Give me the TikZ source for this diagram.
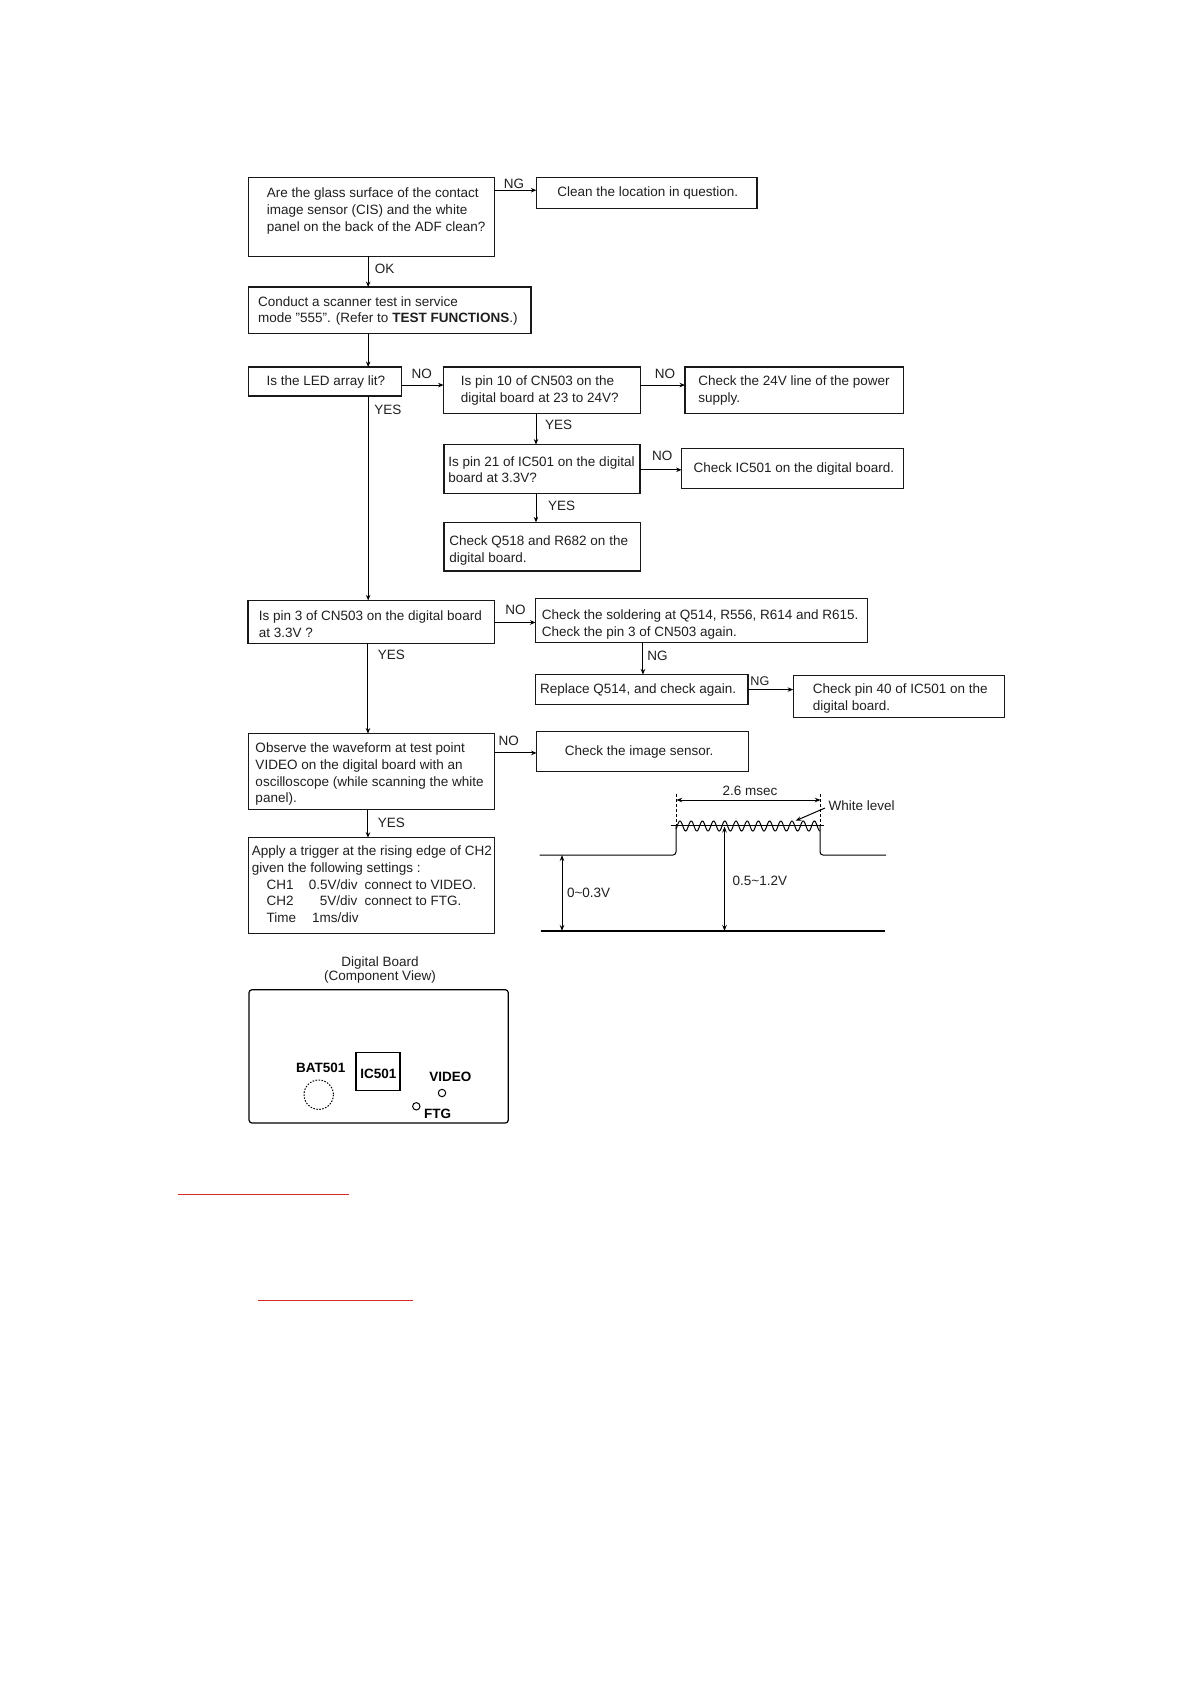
\documentclass[tikz,border=0pt]{standalone}
\usepackage{fontspec}
\setmainfont{Liberation Sans}
\usetikzlibrary{arrows.meta}
\definecolor{redline}{RGB}{215,40,40}
\tikzset{
  x=1pt,y=-1pt,
  boxn/.style={draw=black!90,line width=1.2pt,inner sep=0pt,outer sep=0pt,anchor=north west},
  txt/.style={inner sep=0pt,outer sep=0pt,anchor=west,align=left,text=black!88,font=\fontsize{13.5}{16.6}\selectfont},
  lab/.style={txt},
  clab/.style={txt,anchor=center},
  blab/.style={inner sep=0pt,outer sep=0pt,anchor=center,text=black,font=\fontsize{13.5}{16}\selectfont\bfseries},
  arr/.style={draw=black,line width=1pt,-{Stealth[length=5.5pt,width=4.5pt]}},
  dbl/.style={draw=black,line width=1pt,{Stealth[length=6pt,width=4.5pt]}-{Stealth[length=6pt,width=4.5pt]}},
  wave/.style={draw=black,line width=1pt},
}
% name, x1, y1, x2, y2, text x, text y, text
\newcommand{\flowbox}[8]{%
  \node[boxn,minimum width={(#4-#2)*1.0043pt},minimum height={(#5-#3)*1.0043pt}] (#1) at (#2,#3) {};
  \node[txt] (#1t) at (#6,#7) {#8};
}
\begin{document}
\begin{tikzpicture}
\useasboundingbox (0,0) rectangle (1190,1682);

\begin{scope}[x=1.0043pt,y=-1.0043pt,yshift=0.9pt,xshift=-0.3pt]
\flowbox{b1}{247.8}{177.7}{492.7}{256}{266.1}{211}{Are the glass surface of the contact\\image sensor (CIS) and the white\\panel on the back of the ADF clean?}
\flowbox{clean}{534.4}{177.7}{754}{208.3}{555.2}{193.5}{Clean the location in question.}
\flowbox{b2}{247.8}{286.7}{529}{333}{257.4}{310.5}{Conduct a scanner test in service\\mode "555". (Refer to \textbf{TEST FUNCTIONS}.)}
\flowbox{b3}{247.8}{366.3}{399.8}{395.2}{265.8}{381.5}{Is the LED array lit?}
\flowbox{b4}{442}{366.3}{638}{412.5}{459.3}{389.5}{Is pin 10 of CN503 on the\\digital board at 23 to 24V?}
\flowbox{b5}{682.4}{366.3}{899.8}{412.5}{695.6}{389.5}{Check the 24V line of the power\\supply.}
\flowbox{b7}{442.4}{443.5}{637.6}{492}{446.8}{468.7}{Is pin 21 of IC501 on the digital\\board at 3.3V?}
\flowbox{b8}{679}{447.5}{899.8}{487}{691}{467.7}{Check IC501 on the digital board.}
\flowbox{b9}{442.4}{521}{638}{569.5}{447.8}{548.9}{Check Q518 and R682 on the\\digital board.}
\flowbox{b6}{247.3}{598.7}{492.4}{641.5}{258.1}{622.6}{Is pin 3 of CN503 on the digital board\\at 3.3V ?}
\flowbox{b10}{533.5}{596.6}{864}{640.5}{539.8}{622.8}{Check the soldering at Q514, R556, R614 and R615.\\Check the pin 3 of CN503 again.}
\flowbox{b11}{533.5}{672.5}{745}{702.5}{538.2}{688.1}{Replace Q514, and check again.}
\flowbox{b12}{790}{673.6}{1000.8}{715.3}{809.7}{696.5}{Check pin 40 of IC501 on the\\digital board.}
\flowbox{b13}{248}{731.3}{492.9}{807.2}{254.7}{771.9}{Observe the waveform at test point\\VIDEO on the digital board with an\\oscilloscope (while scanning the white\\panel).}
\flowbox{b14}{534.6}{729.2}{745.2}{768.8}{562.8}{750.1}{Check the image sensor.}
\flowbox{b15}{248}{835}{492.9}{930.2}{251.1}{881.4}{Apply a trigger at the rising edge of CH2\\given the following settings :\\\hspace*{14.7pt}\rlap{CH1}\hspace{42.2pt}\rlap{0.5V/div}\hspace{55.8pt}connect to VIDEO.\\\hspace*{14.7pt}\rlap{CH2}\hspace{53.3pt}\rlap{5V/div}\hspace{44.7pt}connect to FTG.\\\hspace*{14.7pt}\rlap{Time}\hspace{45.5pt}1ms/div}

% connectors
\draw[arr] (b1.east |- 0,190.3) -- (clean.west |- 0,190.3);
\draw[arr] (b1.south -| 366.9,0) -- (b2.north -| 366.9,0);
\draw[arr] (b2.south -| 366.9,0) -- (b3.north -| 366.9,0);
\draw[arr] (b3.east |- 0,384.3) -- (b4.west |- 0,384.3);
\draw[arr] (b4.east |- 0,384.3) -- (b5.west |- 0,384.3);
\draw[arr] (b3.south -| 366.9,0) -- (b6.north -| 366.9,0);
\draw[arr] (b4.south -| 534,0) -- (b7.north -| 534,0);
\draw[arr] (b7.east |- 0,468.7) -- (b8.west |- 0,468.7);
\draw[arr] (b7.south -| 534,0) -- (b9.north -| 534,0);
\draw[arr] (b6.east |- 0,620.7) -- (b10.west |- 0,620.7);
\draw[arr] (b10.south -| 640.5,0) -- (b11.north -| 640.5,0);
\draw[arr] (b11.east |- 0,687.5) -- (b12.west |- 0,687.5);
\draw[arr] (b6.south -| 366.7,0) -- (b13.north -| 366.7,0);
\draw[arr] (b13.east |- 0,750.6) -- (b14.west |- 0,750.6);
\draw[arr] (b13.south -| 366.7,0) -- (b15.north -| 366.7,0);

% connector labels
\node[clab] (l1) at (512,184) {NG};
\node[lab] (l2) at (373.5,268.5) {OK};
\node[clab] (l3) at (420.3,373) {NO};
\node[clab] (l4) at (662.4,373) {NO};
\node[lab] (l5) at (373,409) {YES};
\node[lab] (l6) at (543,423.5) {YES};
\node[clab] (l7) at (659.8,455) {NO};
\node[lab] (l8) at (546,505) {YES};
\node[clab] (l9) at (513.5,608.4) {NO};
\node[lab] (l10) at (376.5,652.9) {YES};
\node[lab] (l11) at (645,654.2) {NG};
\node[lab,font=\fontsize{12.6}{15}\selectfont] (l12) at (747.5,679.4) {NG};
\node[clab] (l13) at (506.8,738.6) {NO};
\node[lab] (l14) at (376.5,819.9) {YES};
\end{scope}

% waveform
\coordinate (wl) at (539.5,855);
\coordinate (wr) at (886,855);
\coordinate (bl) at (540.5,931);
\coordinate (br) at (885,931);
\draw[wave,line width=1.5pt] (bl) -- (br);
\draw[wave,rounded corners=3pt] (wl) -- (676,855) -- (676,826);
\draw[wave,rounded corners=3pt] (820,826) -- (820,855) -- (wr);
\draw[wave,line width=1.2pt] (670.7,825.5) -- (824,825.5);
\draw[wave,domain=676:820,samples=260,smooth] plot (\x,{826-5*cos((\x-680)/11.2*360)});
\draw[wave,dash pattern=on 3pt off 2pt] (676.3,794) -- (676.3,826);
\draw[wave,dash pattern=on 3pt off 2pt] (820.7,794) -- (820.7,826);
\draw[dbl] (676.3,800) -- (820.7,800);
\node[clab] (w1) at (750,790.5) {2.6 msec};
\node[lab] (w2) at (828.5,805.7) {White level};
\draw[arr] (825,808) -- (795.7,820.7);
\draw[dbl] (724.5,826.5) -- (724.5,931);
\node[lab] (w3) at (732.7,881) {0.5\textasciitilde1.2V};
\draw[dbl] (562,855) -- (562,931);
\node[lab] (w4) at (567,892.7) {0\textasciitilde0.3V};

% board
\node[clab] (t1) at (380,962.7) {Digital Board};
\node[clab] (t2) at (380,977) {(Component View)};
\node[draw=black,line width=1.2pt,rounded corners=3pt,inner sep=0pt,outer sep=0pt,anchor=north west,minimum width=259.3pt,minimum height=133.3pt] (board) at (249,989.7) {};
\node[draw=black,line width=1.2pt,inner sep=0pt,outer sep=0pt,anchor=north west,minimum width=44pt,minimum height=37.6pt] (ic) at (356,1052.7) {};
\node[blab] (ict) at (378.3,1073.7) {IC501};
\node[blab] (bat) at (320.7,1068) {BAT501};
\node[blab] (vid) at (450.3,1077.3) {VIDEO};
\node[blab] (ftg) at (437.7,1114) {FTG};
\draw[black,line width=1pt,dash pattern=on 1.5pt off 1.5pt] (318.7,1094.7) circle (14.7);
\draw[black,line width=1pt] (442,1093) circle (3.7);
\draw[black,line width=1pt] (416.3,1106.3) circle (3.7);

% red rules
\coordinate (r1a) at (178,1194); \coordinate (r1b) at (349,1194);
\coordinate (r2a) at (258,1300.7); \coordinate (r2b) at (412.7,1300.7);
\draw[redline,line width=1pt] (r1a) -- (r1b);
\draw[redline,line width=1pt] (r2a) -- (r2b);
\end{tikzpicture}
\end{document}
